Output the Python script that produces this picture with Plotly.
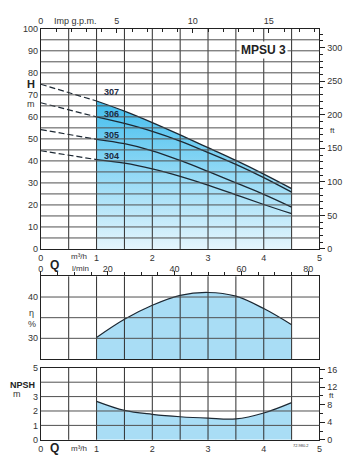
import plotly.graph_objects as go

# ---------------- data ----------------
Q = [1.0, 1.5, 2.0, 2.5, 3.0, 3.5, 4.0, 4.5]          # m3/h
H307 = [67.2, 62.6, 57.4, 51.8, 46.0, 40.2, 34.0, 27.4]
H306 = [60.0, 57.0, 53.4, 49.0, 43.8, 38.4, 32.4, 25.8]
H305 = [49.8, 47.8, 44.6, 40.2, 35.2, 30.0, 24.8, 19.0]
H304 = [40.6, 39.0, 36.4, 33.0, 29.0, 24.6, 20.2, 16.0]
Q_DASH = [0.0, 1.0]
H307_DASH = [74.8, 67.2]
H306_DASH = [66.4, 60.0]
H305_DASH = [54.2, 49.8]
H304_DASH = [44.6, 40.6]
EFF = [30.2, 34.6, 38.0, 40.4, 41.1, 40.2, 37.2, 33.3]   # %
NPSH = [2.67, 2.04, 1.77, 1.60, 1.50, 1.45, 1.86, 2.58]  # m

CURVE_NAMES = ["307", "306", "305", "304"]
LABEL_POS_H = [71.2, 61.4, 51.7, 42.4]

Q_TICKS = [0, 0.5, 1, 1.5, 2, 2.5, 3, 3.5, 4, 4.5, 5]
Q_LABELS = ["0", "", "1", "", "2", "", "3", "", "4", "", "5"]
H_TICKS = [0, 10, 20, 30, 40, 50, 60, 70, 80, 90, 100]
H_GRID = [5, 10, 15, 20, 25, 30, 35, 40, 45, 50, 55, 60, 65, 70, 75, 80, 85, 90, 95]
FT_TICKS = [0, 50, 100, 150, 200, 250, 300]
GPM_TICKS = [0, 5, 10, 15]
LMIN_TICKS = [0, 20, 40, 60, 80]
EFF_TICKS = [30, 40]
EFF_GRID = [30, 35, 40]
NPSH_TICKS = [0, 1, 2, 3, 4, 5]
NPSH_LABELS = ["0", "1", "2", "3", "", "5"]
NPSH_GRID = [1, 2, 3, 4]
NPSH_FT_TICKS = [0, 4, 8, 12, 16]

IMP = 3.6662   # Imp gpm per m3/h
LMIN = 1000 / 60
FT = 3.28084

W, HGT = 350, 468
FONT = "Liberation Sans"
TXT = "#333333"
LINE = "#1c2833"


def px(x):
    return x / W


def py(y):
    return 1 - y / HGT


XDOM = [px(38.5), px(322)]
YDOM1 = [py(249.3), py(24.3)]
YDOM3 = [py(361.7), py(277.3)]
YDOM5 = [py(444.3), py(370.7)]

fig = go.Figure()

# top chart fill
fig.add_trace(go.Scatter(
    x=Q, y=H307, mode="lines", line=dict(color=LINE, width=1.3, shape="spline"),
    fill="tozeroy",
    fillgradient=dict(type="vertical", colorscale=[[0, "#E4F5FD"], [1, "#43BEEE"]]),
    xaxis="x", yaxis="y", hoverinfo="skip", showlegend=False))
for h in [H306, H305, H304]:
    fig.add_trace(go.Scatter(x=Q, y=h, mode="lines",
                             line=dict(color=LINE, width=1.3, shape="spline"),
                             xaxis="x", yaxis="y", hoverinfo="skip", showlegend=False))
for h in [H307_DASH, H306_DASH, H305_DASH, H304_DASH]:
    fig.add_trace(go.Scatter(x=Q_DASH, y=h, mode="lines",
                             line=dict(color=LINE, width=1.2, dash="6px,3px"),
                             xaxis="x", yaxis="y", hoverinfo="skip", showlegend=False))

# efficiency
fig.add_trace(go.Scatter(x=Q, y=EFF, mode="lines",
                         line=dict(color=LINE, width=1.2, shape="spline"),
                         fill="tozeroy", fillcolor="#A9DDF5",
                         xaxis="x3", yaxis="y3", hoverinfo="skip", showlegend=False))
# NPSH
fig.add_trace(go.Scatter(x=Q, y=NPSH, mode="lines",
                         line=dict(color=LINE, width=1.2, shape="spline"),
                         fill="tozeroy", fillcolor="#A9DDF5",
                         xaxis="x5", yaxis="y5", hoverinfo="skip", showlegend=False))

# invisible traces to activate secondary axes
for xa, ya in [("x2", "y"), ("x", "y2"), ("x4", "y3"), ("x5", "y6")]:
    fig.add_trace(go.Scatter(x=[0], y=[0], mode="markers", marker=dict(opacity=0),
                             xaxis=xa, yaxis=ya, hoverinfo="skip", showlegend=False))

tickfont = dict(family=FONT, size=9, color=TXT)
frame = dict(showline=True, linecolor="#222222", linewidth=1, mirror=True,
             showgrid=False, zeroline=False, fixedrange=True)

fig.update_layout(
    width=W, height=HGT, margin=dict(l=0, r=0, t=0, b=0),
    paper_bgcolor="white", plot_bgcolor="white",
    font=dict(family=FONT, size=9, color=TXT),
    xaxis=dict(domain=XDOM, anchor="y", range=[0, 5], tickvals=Q_TICKS, ticktext=Q_LABELS,
               ticks="", tickfont=tickfont, **frame),
    yaxis=dict(domain=YDOM1, anchor="x", range=[0, 100], tickvals=H_TICKS,
               ticks="", tickfont=tickfont, **frame),
    xaxis2=dict(overlaying="x", anchor="y", side="top", range=[0, 5 * IMP],
                tickvals=GPM_TICKS, ticks="inside", ticklen=4, tickcolor="#222",
                minor=dict(dtick=1, ticks="inside", ticklen=3, tickcolor="#222"),
                tickfont=tickfont, showline=True, linecolor="#222", showgrid=False,
                zeroline=False, fixedrange=True),
    yaxis2=dict(overlaying="y", anchor="x", side="right", range=[0, 100 * FT],
                tickvals=FT_TICKS, ticks="outside", ticklen=5, tickcolor="#222",
                minor=dict(dtick=10, ticks="outside", ticklen=3, tickcolor="#222"),
                tickfont=tickfont, showline=True, linecolor="#222", showgrid=False,
                zeroline=False, fixedrange=True),
    xaxis3=dict(domain=XDOM, anchor="y3", range=[0, 5], showticklabels=False, ticks="",
                **frame),
    yaxis3=dict(domain=YDOM3, anchor="x3", range=[25, 45], tickvals=EFF_TICKS, ticks="",
                tickfont=tickfont, **frame),
    xaxis4=dict(overlaying="x3", anchor="y3", side="top", range=[0, 5 * LMIN],
                tickvals=LMIN_TICKS, ticks="outside", ticklen=4, tickcolor="#222",
                ticklabelstandoff=-4,
                minor=dict(dtick=5, ticks="outside", ticklen=3, tickcolor="#222"),
                tickfont=tickfont, showline=True, linecolor="#222", showgrid=False,
                zeroline=False, fixedrange=True),
    xaxis5=dict(domain=XDOM, anchor="y5", range=[0, 5], tickvals=NPSH_TICKS, ticks="",
                tickfont=tickfont, **frame),
    yaxis5=dict(domain=YDOM5, anchor="x5", range=[0, 5], tickvals=NPSH_TICKS,
                ticktext=NPSH_LABELS, ticks="", tickfont=tickfont, **frame),
    yaxis6=dict(overlaying="y5", anchor="x5", side="right", range=[0, 5 * FT],
                tickvals=NPSH_FT_TICKS, ticks="outside", ticklen=5, tickcolor="#222",
                minor=dict(dtick=2, ticks="outside", ticklen=3, tickcolor="#222"),
                tickfont=tickfont, showline=True, linecolor="#222", showgrid=False,
                zeroline=False, fixedrange=True),
)

# grid lines drawn above the fills
shapes = []
VCOL, HCOL = "#2e2e2e", "#505050"
for xr, yr, hgrid in [("x", "y", H_GRID), ("x3", "y3", EFF_GRID), ("x5", "y5", NPSH_GRID)]:
    for q in Q_TICKS[1:-1]:
        shapes.append(dict(type="line", xref=xr, yref=yr + " domain", x0=q, x1=q, y0=0, y1=1,
                           line=dict(color=VCOL, width=1), layer="above"))
    for h in hgrid:
        shapes.append(dict(type="line", xref=xr + " domain", yref=yr, x0=0, x1=1, y0=h, y1=h,
                           line=dict(color=HCOL, width=1), layer="above"))
fig.update_layout(shapes=shapes)

ann = []


def pa(text, x, y, size=9, bold=False, xanchor="center", color=TXT):
    t = f"<b>{text}</b>" if bold else text
    ann.append(dict(text=t, x=px(x), y=py(y), xref="paper", yref="paper", showarrow=False,
                    xanchor=xanchor, yanchor="middle",
                    font=dict(family=FONT, size=size, color=color)))


pa("H", 28, 81, size=11, bold=True, color="#222")
pa("m", 28, 101)
pa("ft", 335, 128, size=8)
pa("Imp g.p.m.", 74, 16)
pa("m³/h", 77, 257, size=8)
pa("Q", 52, 266, size=12, bold=True, color="#222")
pa("l/min", 79, 269, size=8)
pa("η", 29, 315)
pa("%", 29, 326)
pa("NPSH", 20, 388, bold=True, color="#222")
pa("m", 14, 398)
pa("ft", 334, 399, size=8)
pa("Q", 52, 453, size=12, bold=True, color="#222")
pa("m³/h", 77, 453, size=8)
pa("72.980.2", 303, 450, size=4)

for name, hy in zip(CURVE_NAMES, LABEL_POS_H):
    ann.append(dict(text=f"<b>{name}</b>", x=1.26, y=hy, xref="x", yref="y", showarrow=False,
                    font=dict(family=FONT, size=9, color="#1c2a40")))
ann.append(dict(text="<b>MPSU 3</b>", x=4.0, y=90.3, xref="x", yref="y", showarrow=False,
                bgcolor="white", borderpad=1,
                font=dict(family=FONT, size=12, color="#222")))
fig.update_layout(annotations=ann)

fig.write_html("out.html")
